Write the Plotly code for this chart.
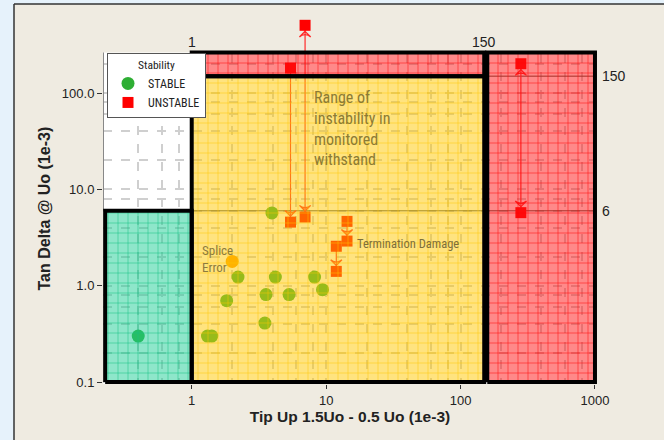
import numpy as np
import plotly.graph_objects as go

# ---- measured points -------------------------------------------------------
stable_x = [0.40, 1.31, 1.41, 1.82, 2.21, 3.5, 3.57, 3.95, 4.19, 5.3, 8.2, 9.4]
stable_y = [0.30, 0.30, 0.30, 0.70, 1.23, 0.41, 0.81, 5.7, 1.23, 0.81, 1.23, 0.91]

splice_x = [2.0]
splice_y = [1.79]

unstable_x = [5.43, 5.43, 6.97, 6.97, 14.3, 14.3, 11.9, 11.9, 281, 281]
unstable_y = [182, 4.58, 506, 5.17, 4.66, 2.91, 2.57, 1.41, 202, 5.74]
# (from, to) index pairs of the drift arrows between repeated measurements
arrow_pairs = [(0, 1), (2, 3), (4, 5), (6, 7), (8, 9)]
double_headed = [False, True, False, False, True]

# ---- zone limits -------------------------------------------------------------
tipup_limit = 150      # 1e-3
td_limit_low = 6       # 1e-3
td_limit_high = 150    # 1e-3
x_lo, x_hi = 0.227, 1000
y_lo, y_hi = 0.1, 264

x_ticks = [1, 10, 100, 1000]
x_tick_text = ["1", "10", "100", "1000"]
y_ticks = [0.1, 1, 10, 100]
y_tick_text = ["0.1", "1.0", "10.0", "100.0"]

minor_x = [m * 10.0 ** e for e in range(-1, 3) for m in (2, 4, 6, 8)]
minor_y = [m * 10.0 ** e for e in range(-1, 3) for m in (2, 4, 6, 8)]

X_RANGE = [-0.66, 3.015]
Y_RANGE = [-1.02, 2.78]

zones = [
    # name, x0, x1, y0, y1, fill, grid colour
    ("ok", x_lo, 1, y_lo, td_limit_low, "rgba(30,205,150,0.5)", "rgba(20,190,130,0.85)"),
    ("watch", 1, tipup_limit, y_lo, td_limit_high, "rgba(255,200,0,0.5)", "rgba(255,196,0,0.8)"),
    ("act_top", 1, tipup_limit, td_limit_high, y_hi, "rgba(255,20,20,0.5)", "rgba(255,0,0,0.8)"),
    ("act_right", 158, x_hi, y_lo, y_hi, "rgba(255,20,20,0.5)", "rgba(255,0,0,0.8)"),
]

FONT = "Liberation Sans, Arial, sans-serif"
NARROW = "Liberation Sans Narrow, Roboto Condensed, Liberation Sans, sans-serif"
BEIGE = "#efebe1"
ARROW = "#ff2a2a"

fig = go.Figure()

# headroom above the zones stays page-coloured (no grid)
bx0, bx1 = 10 ** (X_RANGE[0] - 0.1), 10 ** (X_RANGE[1] + 0.1)
by1 = 10 ** (Y_RANGE[1] + 0.1)
fig.add_trace(go.Scatter(x=[bx0, bx1, bx1, bx0, bx0], y=[y_hi, y_hi, by1, by1, y_hi],
                         mode="lines", fill="toself", fillcolor=BEIGE, line=dict(width=0),
                         showlegend=False, hoverinfo="skip"))
# left frame line of the plotting region
fig.add_trace(go.Scatter(x=[10 ** X_RANGE[0]] * 2, y=[td_limit_low, y_hi], mode="lines",
                         line=dict(color="#888", width=2), showlegend=False, hoverinfo="skip"))

# reference lines (drawn under the zone tint)
for lvl in (td_limit_low, td_limit_high):
    fig.add_trace(go.Scatter(x=[1, x_hi], y=[lvl, lvl], mode="lines",
                             line=dict(color="#4a4a3a", width=1),
                             showlegend=False, hoverinfo="skip"))

# drift arrows: shafts, then heads
head_x, head_y, head_angle = [], [], []
for (a, b), both in zip(arrow_pairs, double_headed):
    fig.add_trace(go.Scatter(
        x=[unstable_x[a], unstable_x[b]], y=[unstable_y[a], unstable_y[b]],
        mode="lines", line=dict(color=ARROW, width=1.2),
        showlegend=False, hoverinfo="skip"))
    head_x.append(unstable_x[b]); head_y.append(unstable_y[b]); head_angle.append(180)
    if both:
        head_x.append(unstable_x[a]); head_y.append(unstable_y[a]); head_angle.append(0)
fig.add_trace(go.Scatter(
    x=head_x, y=head_y, mode="markers",
    marker=dict(symbol="arrow-wide-open", size=8, angle=head_angle, standoff=6,
                color=ARROW, line=dict(color=ARROW, width=1.3)),
    showlegend=False, hoverinfo="skip"))

fig.add_trace(go.Scatter(x=stable_x, y=stable_y, mode="markers", name="STABLE",
                         marker=dict(symbol="circle", size=13, color="#2eae34")))
fig.add_trace(go.Scatter(x=unstable_x, y=unstable_y, mode="markers", name="UNSTABLE",
                         marker=dict(symbol="square", size=11, color="#ff0000")))
fig.add_trace(go.Scatter(x=splice_x, y=splice_y, mode="markers", showlegend=False,
                         marker=dict(symbol="circle", size=13, color="#ff9c00")))

# tinted, gridded zones
for name, x0, x1, y0, y1, fill, grid in zones:
    fig.add_trace(go.Scatter(
        x=[x0, x1, x1, x0, x0], y=[y0, y0, y1, y1, y0], mode="lines", fill="toself",
        fillcolor=fill, line=dict(width=0),
        fillpattern=dict(shape="+", size=10, solidity=0.12, fillmode="replace",
                         bgcolor=fill, fgcolor=grid),
        showlegend=False, hoverinfo="skip"))

# heavy zone borders
for name, x0, x1, y0, y1, fill, grid in zones:
    fig.add_trace(go.Scatter(
        x=[x0, x1, x1, x0, x0], y=[y0, y0, y1, y1, y0], mode="lines",
        line=dict(color="black", width=4), showlegend=False, hoverinfo="skip"))

PW, PH, ML, MT = 494, 366, 103, 18

lab = dict(size=14, color="#222", family=FONT)
ann = [
    dict(x=np.log10(1), y=np.log10(y_hi), xref="x", yref="y", yanchor="bottom", yshift=1,
         text="1", showarrow=False, font=lab),
    dict(x=np.log10(tipup_limit), y=np.log10(y_hi), xref="x", yref="y", yanchor="bottom",
         yshift=1, text="150", showarrow=False, font=lab),
    dict(x=1, y=np.log10(td_limit_high), xref="paper", yref="y", xanchor="left", xshift=3,
         text="150", showarrow=False, font=lab),
    dict(x=1, y=np.log10(td_limit_low), xref="paper", yref="y", xanchor="left", xshift=3,
         text="6", showarrow=False, font=lab),
    dict(x=np.log10(7.9), y=2.075, xref="x", yref="y", xanchor="left", yanchor="top",
         align="left", showarrow=False,
         text="Range of<br>instability in<br>monitored<br>withstand",
         font=dict(size=16, color="#8c7b34", family=NARROW)),
    dict(x=np.log10(1.15), y=0.46, xref="x", yref="y", xanchor="left", yanchor="top",
         align="left", showarrow=False, text="Splice<br>Error",
         font=dict(size=13, color="#8c7b3e", family=NARROW)),
    dict(x=np.log10(16.5), y=0.44, xref="x", yref="y", xanchor="left", yanchor="middle",
         showarrow=False, text="Termination Damage",
         font=dict(size=12.5, color="#7d6f3a", family=NARROW)),
    dict(x=-59 / PW, y=(PH + MT - 208.5) / PH, xref="paper", yref="paper",
         xanchor="center", yanchor="middle", textangle=-90, showarrow=False,
         text="<b>Tan Delta @ Uo (1e-3)</b>", font=dict(size=16, color="#222", family=FONT)),
]

fig.update_layout(
    width=664, height=440,
    margin=dict(l=ML, r=67, t=MT, b=56),
    paper_bgcolor=BEIGE, plot_bgcolor="white",
    font=dict(family=FONT, color="#222"),
    annotations=ann,
    legend=dict(x=4 / PW, y=(PH + MT - 53) / PH, xanchor="left", yanchor="top",
                bgcolor="white", bordercolor="#555", borderwidth=1,
                title=dict(text="Stability", side="top center",
                           font=dict(size=11.5, family=NARROW)),
                font=dict(size=12, family=NARROW),
                tracegroupgap=0, itemwidth=30),
    shapes=[
        dict(type="rect", xref="paper", yref="paper", x0=-ML / PW, x1=-(ML - 14) / PW,
             y0=-0.3, y1=1.3, fillcolor="#e6f2fb", line=dict(width=0), layer="below"),
        dict(type="rect", xref="paper", yref="paper", x0=-(ML - 14) / PW, x1=1.3,
             y0=(PH + MT - 4) / PH, y1=1.3, fillcolor="#e6f2fb", line=dict(width=0),
             layer="below"),
        dict(type="line", xref="paper", yref="paper", x0=-(ML - 14) / PW, x1=-(ML - 14) / PW,
             y0=-0.3, y1=(PH + MT - 4) / PH, line=dict(color="#333", width=1.5)),
        dict(type="line", xref="paper", yref="paper", x0=-(ML - 14) / PW, x1=1.3,
             y0=(PH + MT - 4) / PH, y1=(PH + MT - 4) / PH, line=dict(color="#333", width=1.5)),
    ],
)

fig.update_xaxes(
    type="log", range=X_RANGE,
    tickvals=x_ticks, ticktext=x_tick_text, ticks="outside", ticklen=4, tickcolor="#333",
    tickfont=dict(size=13, color="#222"),
    showline=False,
    showgrid=True, gridcolor="#cfcfcf", griddash="dash", gridwidth=1.5,
    minor=dict(tickvals=minor_x, showgrid=True, gridcolor="#cfcfcf", griddash="dash",
               gridwidth=1.5, ticks=""),
    zeroline=False,
    title=dict(text="<b>Tip Up 1.5Uo - 0.5 Uo (1e-3)</b>", font=dict(size=15.5), standoff=3),
)
fig.update_yaxes(
    type="log", range=Y_RANGE,
    tickvals=y_ticks, ticktext=y_tick_text, ticks="outside", ticklen=5, tickcolor="#333",
    tickfont=dict(size=13, color="#222"),
    showline=False,
    showgrid=True, gridcolor="#cfcfcf", griddash="dash", gridwidth=1.5,
    minor=dict(tickvals=minor_y, showgrid=True, gridcolor="#cfcfcf", griddash="dash",
               gridwidth=1.5, ticks=""),
    zeroline=False,
)

fig.write_html("out.html")
